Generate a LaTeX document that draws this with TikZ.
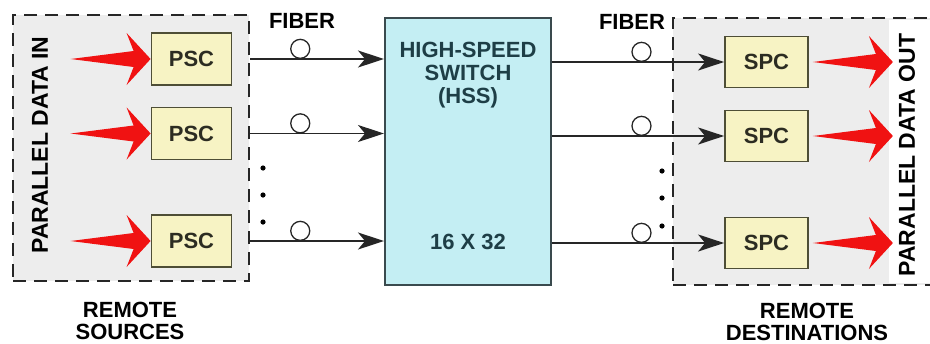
\documentclass[tikz,border=0pt]{standalone}
\usepackage{fontspec}
\setmainfont{Liberation Sans}
\usetikzlibrary{arrows.meta,positioning}
\definecolor{boxgray}{HTML}{EDEDED}
\definecolor{convfill}{HTML}{F7F3C4}
\definecolor{convline}{HTML}{4E4E36}
\definecolor{convtext}{HTML}{2C2C22}
\definecolor{hssfill}{HTML}{C4EEF3}
\definecolor{hssline}{HTML}{3A4A4E}
\definecolor{hsstext}{HTML}{1E3E46}
\definecolor{datared}{HTML}{F01212}

\begin{document}
\begin{tikzpicture}[x=0.5pt, y=-0.5pt, font=\bfseries\fontsize{11}{11}\selectfont,
  groupbox/.style={draw=black!85, dash pattern=on 6.5pt off 4pt, line width=1pt, fill=boxgray},
  conv/.style={draw=convline, fill=convfill, line width=0.9pt, minimum width=40pt, minimum height=26pt, text=convtext},
  fiberline/.style={draw=black!85, line width=0.85pt, -{Stealth[length=13pt, width=8.5pt, inset=3.5pt]}},
  fiberloop/.style={circle, draw=black!85, line width=0.65pt, minimum size=9.5pt, inner sep=0pt, anchor=south},
  biglabel/.style={font=\bfseries\fontsize{11.5}{11.5}\selectfont}]
  \useasboundingbox (0,0) rectangle (930,343);
  \clip (0,0) rectangle (930,343);

  % remote sources and destinations
  \node[groupbox, minimum width=118pt, minimum height=133pt] (srcbox) at (131,148) {};
  \node[groupbox, minimum width=138.5pt, minimum height=133.5pt] (dstbox) at (811.5,151.5) {};
  \fill[white] (889,20) rectangle (930,283);
  \node[biglabel, rotate=90] (datain) at (40,145) {PARALLEL DATA IN};
  \node[biglabel, rotate=90] (dataout) at (907,155) {PARALLEL DATA OUT};

  % the switch
  \node[draw=hssline, fill=hssfill, line width=1pt, minimum width=83pt, minimum height=133.5pt] (hss) at (468,151.5) {};
  \node[text=hsstext, align=center, font=\bfseries\fontsize{11}{11.5}\selectfont] (hssname) at (468,75) {HIGH-SPEED\\SWITCH\\(HSS)};
  \node[text=hsstext] (hsssize) at (468,242) {16 X 32};

  % converters
  \foreach \i/\y in {1/59,2/133.5,3/241} {
    \node[conv] (psc\i) at (191.5,\y) {PSC};
    \fill[datared, shift={(psc\i.west)}] (-80,0) -- (-17,-8) -- (-24,-26) -- (0,0) -- (-24,26) -- (-17,8) -- cycle;
    \draw[fiberline] (srcbox.east |- psc\i) -- node[pos=0.375, fiberloop] {} (hss.west |- psc\i);
  }
  \foreach \i/\y in {1/62,2/136,3/243} {
    \node[conv, minimum width=41.5pt, minimum height=25.5pt] (spc\i) at (766.5,\y) {SPC};
    \fill[datared, shift={(spc\i.east)}] (4,0) -- (67,-8) -- (60,-26) -- (84,0) -- (60,26) -- (67,8) -- cycle;
    \draw[fiberline] (hss.east |- spc\i) -- node[pos=0.52, fiberloop] {} (spc\i);
  }

  % more lines
  \foreach \y in {168,195,222} \fill (263,\y) circle (1.3pt);
  \foreach \y in {171,198,226} \fill (662,\y) circle (1.3pt);

  % labels
  \node (fiberin) at (302,21) {FIBER};
  \node (fiberout) at (632,22) {FIBER};
  \node[align=center] (srclabel) at (130,321) {REMOTE\\SOURCES};
  \node[align=center] (dstlabel) at (807,322) {REMOTE\\DESTINATIONS};
\end{tikzpicture}
\end{document}
